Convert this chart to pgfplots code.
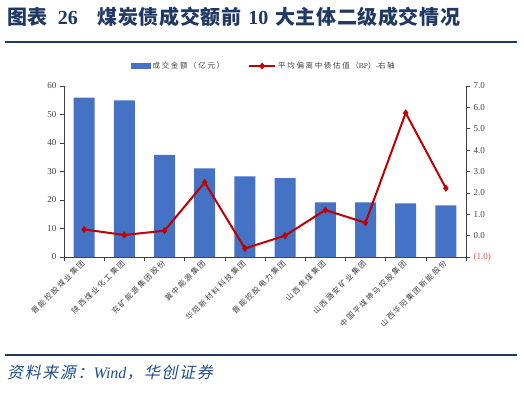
\documentclass[border=0pt]{standalone}
\usepackage{pgfplots}
\pgfplotsset{compat=1.18}
\usepackage{fontspec}
\setmainfont{Liberation Serif}
\newfontfamily\cjk{Noto Sans CJK SC}
\newfontfamily\cjktitle[LetterSpace=3]{Noto Sans CJK SC}
\newfontfamily\cjklab[LetterSpace=22]{Noto Sans CJK SC}
\newfontfamily\cjkit[FakeSlant=0.2,LetterSpace=10]{Noto Sans CJK SC}
\definecolor{barblue}{HTML}{4472C4}
\definecolor{linered}{HTML}{C00000}
\definecolor{titleblue}{HTML}{1F3864}
\definecolor{axisgray}{HTML}{404040}
\definecolor{srcblue}{HTML}{1F4E8C}
\pgfplotsset{
  lineleg/.style={legend image code/.code={\draw[mark repeat=2,mark phase=2,##1] plot coordinates {(0pt,0pt) (13pt,0pt) (26pt,0pt)};}},
  barleg/.style={legend image code/.code={\fill[barblue] (0pt,-2.5pt) rectangle (19pt,2.5pt);}},
}
\begin{document}
\begin{tikzpicture}[x=1pt,y=1pt]
\useasboundingbox (0,0) rectangle (524,400);
\node[anchor=west, font=\bfseries\fontsize{20}{20}\selectfont, text=titleblue, inner sep=0] at (7,383)
  {{\cjktitle\bfseries 图表}\hspace{10pt}26\hspace{20pt}{\cjktitle\bfseries 煤炭债成交额前}\hspace{7pt}10\hspace{7pt}{\cjktitle\bfseries 大主体二级成交情况}};
\draw[titleblue, line width=1.5pt] (5,358) -- (517,358);
\draw[titleblue, line width=1.5pt] (5,45) -- (517,45);
\node[anchor=west, font=\fontsize{16}{16}\selectfont, text=srcblue, inner sep=0] at (7,27)
  {{\cjkit 资料来源：}\textit{Wind}{\cjkit ，华创证券}};

\begin{axis}[
  at={(64pt,143pt)}, anchor=south west,
  width=402pt, height=171pt, scale only axis,
  xmin=-0.5, xmax=9.5, ymin=0, ymax=60,
  ytick={0,10,...,60},
  axis x line*=bottom, axis y line*=left,
  axis line style={draw=axisgray, line width=0.8pt},
  xtick={0,...,9},
  xticklabels={晋能控股煤业集团,陕西煤业化工集团,兖矿能源集团股份,冀中能源集团,华阳新材料科技集团,晋能控股电力集团,山西焦煤集团,山西潞安矿业集团,中国平煤神马控股集团,山西华阳集团新能股份},
  major x tick style={draw=none},
  minor xtick={-0.5,0.5,...,9.5},
  minor tick length=4pt,
  minor x tick style={draw=axisgray, line width=0.6pt},
  xtick align=outside, ytick align=outside,
  major tick length=4pt,
  y tick style={draw=axisgray, line width=0.6pt},
  xticklabel style={font=\cjklab\fontsize{7.5}{7.5}\selectfont, text=axisgray, rotate=45, anchor=east, inner sep=1pt},
  yticklabel style={font=\fontsize{9}{9}\selectfont, text=axisgray},
  /pgf/number format/assume math mode=true,
  ybar, bar width=21pt,
  clip=false,
]
\addplot[fill=barblue, draw=none] coordinates {
  (0,55.9) (1,55.0) (2,35.8) (3,31.1) (4,28.3) (5,27.7) (6,19.2) (7,19.2) (8,18.8) (9,18.1)};
\end{axis}

\begin{axis}[
  at={(64pt,143pt)}, anchor=south west,
  width=402pt, height=171pt, scale only axis,
  xmin=-0.5, xmax=9.5, ymin=-1, ymax=7,
  axis y line*=right, axis x line=none,
  axis line style={draw=axisgray, line width=0.8pt},
  ytick={-1,0,...,7},
  yticklabels={\textcolor{red!75}{(1.0)},0.0,1.0,2.0,3.0,4.0,5.0,6.0,7.0},
  ytick align=outside, major tick length=4pt,
  y tick style={draw=axisgray, line width=0.6pt},
  yticklabel style={font=\fontsize{9}{9}\selectfont, text=axisgray},
  clip=false,
  legend style={at={(0.4975,1.117)}, anchor=center, draw=none, fill=none,
    legend columns=2, font=\cjklab\fontsize{7.5}{7.5}\selectfont, text=axisgray,
    /tikz/every even column/.append style={column sep=22pt}},
]
\addlegendimage{barleg}
\addlegendentry{成交金额（亿元）}
\addplot[color=linered, line width=2pt, mark=diamond*, mark size=3.2pt,
  mark options={fill=linered, line width=0.5pt}, lineleg]
  coordinates {(0,0.29) (1,0.03) (2,0.23) (3,2.49) (4,-0.6) (5,0.0) (6,1.2) (7,0.6) (8,5.74) (9,2.22)};
\addlegendentry{平均偏离中债估值（{\rmfamily BP}）{\rmfamily -}右轴}
\end{axis}
\end{tikzpicture}
\end{document}
